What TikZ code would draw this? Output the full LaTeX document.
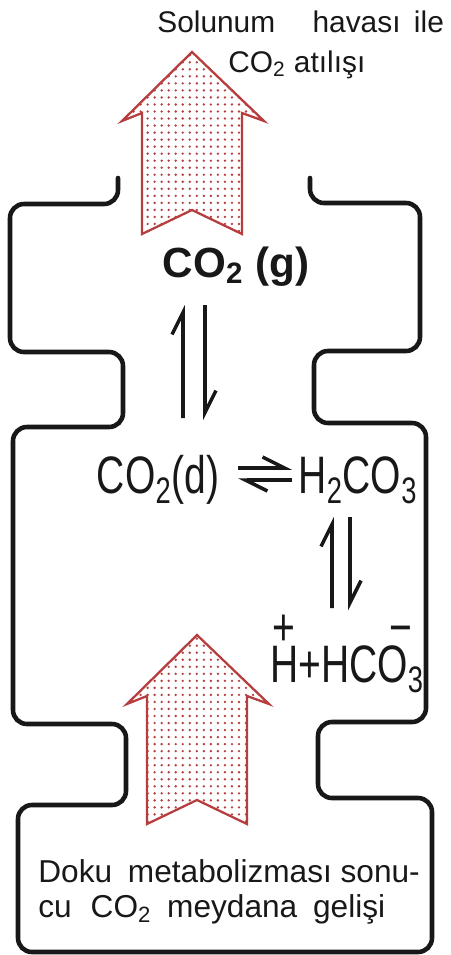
\documentclass[tikz,border=0pt]{standalone}
\usepackage{fontspec}
\setmainfont{Liberation Sans}
\usepackage{graphicx}
\usetikzlibrary{arrows.meta,calc,patterns}
\definecolor{ink}{RGB}{24,24,24}
\definecolor{ventred}{RGB}{182,62,62}
\pgfdeclarepatternformonly{stipple}{\pgfqpoint{-1pt}{-1pt}}{\pgfqpoint{1pt}{1pt}}{\pgfqpoint{4pt}{4pt}}%
  {\pgfpathcircle{\pgfpointorigin}{0.75pt}\pgfusepath{fill}}
\tikzset{
  wall/.style  = {draw=ink, line width=2.6pt, rounded corners=2.8mm, line cap=round},
  vent/.style  = {draw=ventred, line width=1.3pt, pattern=stipple, pattern color=ventred},
  harp/.style  = {draw=ink, line width=2pt, -{Straight Barb[harpoon, length=4.4mm, width=4.4mm]}},
  toptxt/.style = {font=\fontsize{17}{20}\selectfont, text=ink, inner sep=0pt, anchor=base west},
  foot/.style  = {font=\fontsize{18}{21}\selectfont, text=ink, inner sep=0pt, anchor=base west},
  gas/.style   = {font=\fontsize{24}{28}\selectfont\bfseries, text=ink, inner sep=0pt, anchor=base},
  chem/.style  = {font=\fontsize{30}{33}\selectfont, text=ink, inner sep=0pt, anchor=base},
}
\newcommand{\slim}[1]{\scalebox{0.74}[1]{#1}}
\newcommand{\charge}[2]{\ooalign{#1\cr\hidewidth\raisebox{0.7em}{#2}\hidewidth\cr}}
% tip x, tip y, shaft length
\newcommand{\ventarrow}[3]{\draw[vent] (#1,#2) -- ++(-14mm,-13.8mm) -- ++(4mm,1.6mm) -- ++(0,-#3)
  -- ++(10mm,4.8mm) -- ++(10mm,-4.8mm) -- ++(0,#3) -- ++(4.4mm,-1.6mm) -- cycle;}

\begin{document}
\begin{tikzpicture}
\useasboundingbox (0,0) rectangle (90mm,-191mm);

% ======================================================= outline of the compartments
\draw[wall] (23.6mm,-35.6mm) -- (23.6mm,-40.8mm) -- (2mm,-40.8mm) -- (2mm,-70.4mm)
  -- (24.6mm,-70.4mm) -- (24.6mm,-85.4mm) -- (2.6mm,-85.4mm) -- (2.6mm,-144.8mm)
  -- (25.2mm,-144.8mm) -- (25.2mm,-161mm) -- (3.6mm,-161mm) -- (3.6mm,-190.4mm)
  -- (86.4mm,-190.4mm) -- (86.4mm,-159.6mm) -- (63.6mm,-159.6mm) -- (63.6mm,-144.4mm)
  -- (85.2mm,-144.4mm) -- (85.2mm,-84.6mm) -- (62.8mm,-84.6mm) -- (62.8mm,-70.2mm)
  -- (84mm,-70.2mm) -- (84mm,-40.6mm) -- (62mm,-40.6mm) -- (62mm,-35.6mm);

% ======================================================= the two stippled arrows
\ventarrow{38.4mm}{-10.4mm}{24.2mm}
\ventarrow{39.4mm}{-127mm}{25.6mm}

% ======================================================= labels
\node[toptxt] (exhale) at (31.4mm,-6.4mm) {Solunum\hspace{1.25em}havası\hspace{0.45em}ile};
\node[toptxt] (exhale2) at (45.6mm,-14.4mm) {CO\textsubscript{2} atılışı};

\node[gas]  (co2g)  at (47.2mm,-55.4mm) {CO\textsubscript{2} (g)};
\node[chem] (co2d)  at (31.6mm,-98.6mm) {\slim{CO\textsubscript{2}(d)}};
\node[chem] (h2co3) at (71.6mm,-98.6mm) {\slim{H\textsubscript{2}CO\textsubscript{3}}};
\node[chem] (ions)  at (69.4mm,-136.4mm) {\slim{\charge{H}{+}+HC\charge{O\textsubscript{3}}{−}}};

\node[foot] (tissue)  at (7.6mm,-176.4mm) {Doku\hspace{0.5em}metabolizması sonu-};
\node[foot] (tissue2) at (7.6mm,-183.4mm) {cu\hspace{0.6em}CO\textsubscript{2}\hspace{0.5em}meydana\hspace{0.5em}gelişi};

% ======================================================= equilibria
\draw[harp] ($(co2d.base)+(5mm,15mm)$) -- ($(co2g.base)+(-10.6mm,-5.6mm)$);
\draw[harp] ($(co2g.base)+(-6.2mm,-5.6mm)$) -- ($(co2d.base)+(9.4mm,14.6mm)$);

\draw[harp] ($(co2d.base)+(16mm,5mm)$) -- ($(h2co3.base)+(-13.2mm,5mm)$);
\draw[harp] ($(h2co3.base)+(-13.2mm,2.6mm)$) -- ($(co2d.base)+(16mm,2.6mm)$);

\draw[harp] ($(ions.base)+(-3mm,14.8mm)$) -- ($(h2co3.base)+(-5.2mm,-4.8mm)$);
\draw[harp] ($(h2co3.base)+(-1.6mm,-4.8mm)$) -- ($(ions.base)+(0.6mm,14.4mm)$);

\end{tikzpicture}
\end{document}
